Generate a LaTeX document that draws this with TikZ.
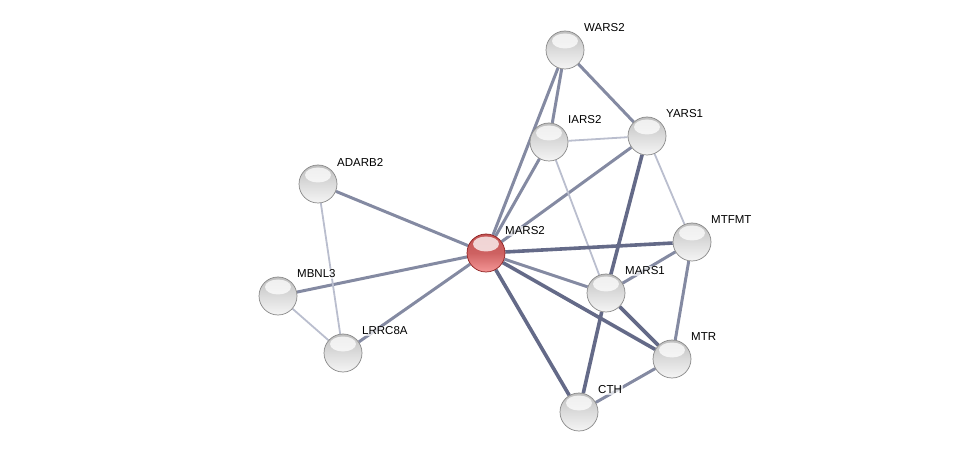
\documentclass[tikz,border=0pt]{standalone}
\usepackage{fontspec}
\setmainfont{Liberation Sans}
\usetikzlibrary{backgrounds}
\definecolor{edgethin}{RGB}{186,190,206}
\definecolor{edgemid}{RGB}{132,138,162}
\definecolor{edgethick}{RGB}{100,106,136}
\definecolor{rimgray}{RGB}{135,135,135}
\definecolor{redout}{RGB}{196,84,84}
\definecolor{redin}{RGB}{244,150,150}
\definecolor{redrim}{RGB}{140,30,30}
\tikzset{
  protein/.style={circle, minimum size=38pt, inner sep=0pt, draw=rimgray, line width=0.7pt,
    top color=gray!50, bottom color=gray!8, middle color=gray!28,
    path picture={\fill[white, opacity=0.75] ([yshift=-10pt]path picture bounding box.north) ellipse [x radius=13pt, y radius=7.5pt];}},
  query/.style={protein, draw=redrim, top color=redout, bottom color=redin, middle color=redout!80!redin},
  plabel/.style={anchor=west, font=\fontsize{11.5}{13}\selectfont, inner sep=1pt,
    fill=white, fill opacity=0.7, text opacity=1},
  ethin/.style={draw=edgethin, line width=1.8pt},
  emid/.style={draw=edgemid, line width=3pt},
  ethick/.style={draw=edgethick, line width=3.6pt},
}
\begin{document}
\begin{tikzpicture}[x=1pt, y=-1pt]
\useasboundingbox (0,0) rectangle (975,457);
% nodes
\node[protein] (WARS2) at (565,50) {};
\node[protein] (IARS2) at (549,142) {};
\node[protein] (YARS1) at (647,136) {};
\node[protein] (ADARB2) at (318,184) {};
\node[query]   (MARS2) at (486,253) {};
\node[protein] (MTFMT) at (692,242) {};
\node[protein] (MBNL3) at (278,296) {};
\node[protein] (MARS1) at (606,293) {};
\node[protein] (LRRC8A) at (343,353) {};
\node[protein] (MTR) at (672,359) {};
\node[protein] (CTH) at (579,412) {};
% labels
\foreach \n in {WARS2,IARS2,YARS1,ADARB2,MARS2,MTFMT,MBNL3,MARS1,LRRC8A,MTR,CTH}{
  \node[plabel] (\n-lab) at ([xshift=18pt, yshift=22pt]\n.center) {\n};
}
% edges
\begin{scope}[on background layer]
\draw[emid] (MARS2) -- (WARS2);
\draw[emid] (MARS2) -- (IARS2);
\draw[emid] (MARS2) -- (YARS1);
\draw[emid] (WARS2) -- (IARS2);
\draw[emid] (WARS2) -- (YARS1);
\draw[ethin] (IARS2) -- (YARS1);
\draw[ethin] (IARS2) -- (MARS1);
\draw[ethick] (YARS1) -- (MARS1);
\draw[ethin] (YARS1) -- (MTFMT);
\draw[ethick] (MARS2) -- (MTFMT);
\draw[emid] (MARS2) -- (MARS1);
\draw[ethick] (MARS2) -- (MTR);
\draw[ethick] (MARS2) -- (CTH);
\draw[emid] (MTFMT) -- (MARS1);
\draw[emid] (MTFMT) -- (MTR);
\draw[ethick] (MARS1) -- (MTR);
\draw[ethick] (MARS1) -- (CTH);
\draw[emid] (MTR) -- (CTH);
\draw[emid] (MARS2) -- (ADARB2);
\draw[emid] (MARS2) -- (MBNL3);
\draw[emid] (MARS2) -- (LRRC8A);
\draw[ethin] (ADARB2) -- (LRRC8A);
\draw[ethin] (MBNL3) -- (LRRC8A);
\end{scope}
\end{tikzpicture}
\end{document}
